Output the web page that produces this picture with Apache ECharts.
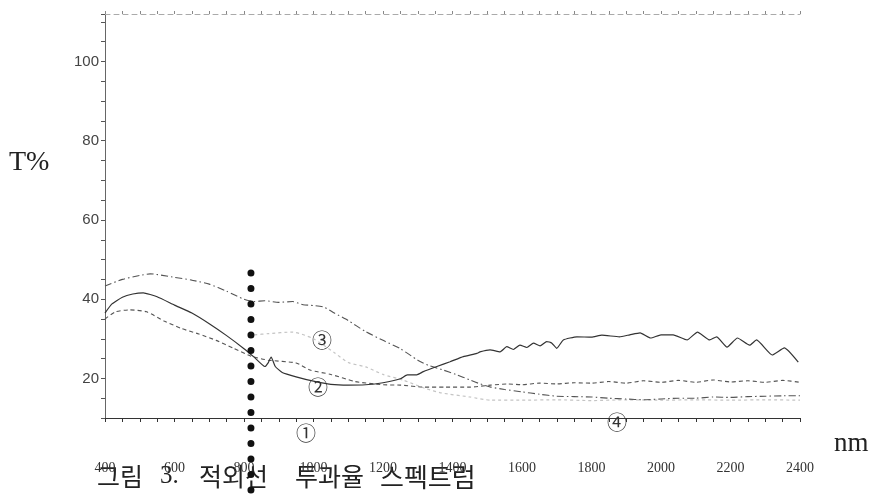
<!DOCTYPE html>
<html>
<head>
<meta charset="utf-8">
<script src="https://cdn.jsdelivr.net/npm/echarts@6/dist/echarts.min.js"></script>
<style>html,body{margin:0;padding:0;background:#fff;}#c{width:873px;height:499px;}</style>
</head>
<body>
<div id="c"></div>
<script>
// ---- data (wavelength nm, transmittance %) ----
const aNm = [400,450,500,530,600,650,700,750,800,830,860,900,940,970,1000,1030,1060,1100,1150,1200,1250,1300,1330,1370,1410,1450,1480,1510,1550,1600,1650,1700,1750,1800,1850,1900,1950,2000,2050,2100,2150,2200,2250,2300,2350,2400];
const aT  = [43.3,45.0,46.0,46.4,45.5,44.8,43.8,42.0,40.0,39.4,39.6,39.2,39.4,38.6,38.4,38.0,36.5,34.6,31.8,29.6,27.5,24.6,23.3,22.2,21.0,19.6,18.6,17.8,17.2,16.6,16.0,15.5,15.4,15.3,15.0,14.8,14.6,14.8,15.0,15.0,15.3,15.2,15.4,15.5,15.6,15.6];

const bNm = [400,420,450,480,510,550,600,650,700,750,800,830,860,870,878,890,910,950,1000,1050,1100,1150,1200,1250,1270,1297,1316,1355,1393,1431,1470,1479,1508,1537,1556,1575,1594,1614,1633,1652,1671,1686,1700,1719,1758,1800,1830,1880,1910,1940,1970,2000,2035,2075,2105,2140,2160,2190,2220,2255,2275,2320,2355,2395];
const bT  = [36.5,38.8,40.5,41.3,41.6,40.6,38.5,36.5,33.8,30.8,27.5,25.3,23.0,24.0,25.4,23.0,21.5,20.4,19.3,18.5,18.3,18.4,18.9,19.9,20.9,20.9,21.7,23.0,24.2,25.5,26.3,26.7,27.2,26.7,28.0,27.3,28.4,27.8,28.9,28.2,29.3,28.9,27.6,29.7,30.5,30.4,30.9,30.5,31.0,31.5,30.2,31.0,31.0,29.7,31.7,29.7,30.5,27.9,30.2,28.4,29.7,25.9,27.7,24.1];

const cNm = [400,430,470,520,570,620,670,720,770,820,870,950,990,1050,1120,1200,1250,1320,1380,1450,1510,1560,1600,1650,1700,1750,1800,1850,1900,1950,2000,2050,2100,2150,2200,2250,2300,2350,2400];
const cT  = [35.0,36.8,37.3,36.8,34.5,32.6,31.2,29.6,27.6,25.6,24.6,23.9,22.1,21.0,19.2,18.4,18.3,17.8,17.8,17.8,18.3,18.6,18.4,18.8,18.6,18.9,18.8,19.2,18.8,19.4,19.0,19.5,19.0,19.6,19.1,19.4,19.0,19.5,19.0];

const dNm = [830,870,940,1000,1060,1100,1150,1200,1260,1320,1370,1450,1510,1600,1700,1800,1900,2000,2100,2200,2300,2400];
const dT  = [31.0,31.3,31.7,30.0,26.5,24.0,22.9,21.0,19.5,17.5,16.3,15.3,14.5,14.5,14.6,14.4,14.6,14.5,14.6,14.5,14.6,14.5];

// dotted vertical marker (wavelength, top value, bottom value)
const markerNm = 820;
const markerT = [46.6, -8.2];

const yTickLabels = [20, 40, 60, 80, 100];
const xTickLabels = [400,600,800,1000,1200,1400,1600,1800,2000,2200,2400];

const captionParts = ['그림', '3.', '적외선', '투과율', '스펙트럼'];
const curveTags = ['①', '②', '③', '④'];
const yName = 'T%';
const xName = 'nm';

const zip = (xs, ys) => xs.map((x, i) => [x, ys[i]]);

const chart = echarts.init(document.getElementById('c'), null, {renderer: 'canvas'});

const serif = 'Liberation Serif';
const kr = '"Noto Sans CJK KR"';
const tag = (t, x, y) => ({type: 'text', x: x, y: y,
  style: {text: t, font: '20px ' + kr, fill: '#333', align: 'center', verticalAlign: 'middle'}});
const cap = (t, left, font) => ({type: 'text', left: left, top: 464, style: {text: t, font: font, fill: '#222'}});

const option = {
  animation: false,
  backgroundColor: '#ffffff',
  grid: {left: 105, right: 73, top: 14, bottom: 81},
  xAxis: [{
    type: 'value', min: 400, max: 2400, interval: 200, position: 'bottom',
    axisLine: {show: true, onZero: false, lineStyle: {color: '#333', width: 1}},
    axisTick: {show: true, length: 4, lineStyle: {color: '#333'}},
    minorTick: {show: true, splitNumber: 4, length: 4, lineStyle: {color: '#333'}},
    axisLabel: {margin: 43, fontFamily: serif, fontSize: 14, color: '#333',
      formatter: v => xTickLabels.includes(v) ? String(v) : ''},
    splitLine: {show: false}
  }, {
    type: 'value', min: 400, max: 2400, interval: 200, position: 'top',
    axisLine: {show: true, onZero: false, lineStyle: {color: '#aaa', width: 1, type: [5, 4]}},
    axisTick: {show: true, length: 3, lineStyle: {color: '#888'}},
    minorTick: {show: true, splitNumber: 4, length: 3, lineStyle: {color: '#888'}},
    axisLabel: {show: false},
    splitLine: {show: false}
  }],
  yAxis: {
    type: 'value', min: 10, max: 112, interval: 5,
    axisLine: {show: true, onZero: false, lineStyle: {color: '#666', width: 1}},
    axisTick: {show: true, length: 4, lineStyle: {color: '#555'}},
    axisLabel: {margin: 6, fontFamily: 'Liberation Sans', fontSize: 15, color: '#444',
      formatter: v => yTickLabels.includes(v) ? String(v) : ''},
    splitLine: {show: false}
  },
  series: [
    {type: 'line', data: zip(dNm, dT), symbol: 'none', smooth: 0.2,
     lineStyle: {color: '#c4c4c4', width: 1.2, type: [3, 3]}},
    {type: 'line', data: zip(aNm, aT), symbol: 'none', smooth: 0.2,
     lineStyle: {color: '#555', width: 1.1, type: [7, 3, 1.5, 3]}},
    {type: 'line', data: zip(cNm, cT), symbol: 'none', smooth: 0.2,
     lineStyle: {color: '#555', width: 1.1, type: [4, 3]}},
    {type: 'line', data: zip(bNm, bT), symbol: 'none', smooth: 0.15,
     lineStyle: {color: '#333', width: 1.2}},
    {type: 'line', data: [[markerNm, markerT[0]], [markerNm, markerT[1]]], symbol: 'none',
     clip: false, silent: true, z: 10,
     lineStyle: {color: '#111', width: 7, type: [0, 15.5], cap: 'round'}}
  ],
  graphic: [
    {type: 'text', left: 9, top: 149, style: {text: yName, font: '28px "Liberation Serif"', fill: '#222'}},
    {type: 'text', left: 834, top: 430, style: {text: xName, font: '27px "Liberation Serif"', fill: '#222'}},
    cap(captionParts[0], 97, '25px ' + kr),
    cap(captionParts[1], 160, '25px "Liberation Serif"'),
    cap(captionParts[2], 199, '25px ' + kr),
    cap(captionParts[3], 295, '25px ' + kr),
    cap(captionParts[4], 380, '26px ' + kr),
    tag(curveTags[0], 306, 433),
    tag(curveTags[1], 318, 387),
    tag(curveTags[2], 322, 340),
    tag(curveTags[3], 617, 422)
  ]
};
chart.setOption(option);
</script>
</body>
</html>
